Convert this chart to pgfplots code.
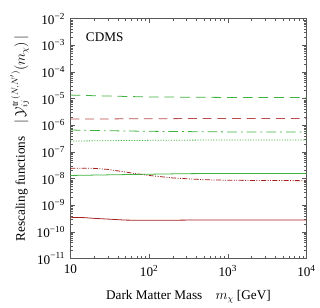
\documentclass[border=0pt]{standalone}
\usepackage{fontspec}
\setmainfont{Liberation Serif}
\usepackage{pgfplots}
\pgfplotsset{compat=1.18}
\definecolor{mgreen}{rgb}{0.25,0.70,0.25}
\definecolor{mred}{rgb}{0.65,0.12,0.12}
\begin{document}
\fontsize{13.5bp}{16bp}\selectfont
\begin{tikzpicture}
\begin{axis}[
  scale only axis,
  width=241bp, height=245bp,
  xmode=log, ymode=log,
  xmin=10, xmax=10000, ymin=1e-11, ymax=1e-2,
  axis line style={gray!70!black, line width=0.5pt},
  tick style={gray!70!black, line width=0.4pt},
  tick align=inside,
  major tick length=5bp, minor tick length=2.5bp,
  xtick={10,100,1000,10000},
  xticklabels={10, 10\textsuperscript{2}, 10\textsuperscript{3}, 10\textsuperscript{4}},
  ytick={1e-11,1e-10,1e-9,1e-8,1e-7,1e-6,1e-5,1e-4,1e-3,1e-2},
  yticklabels={10\textsuperscript{−11},10\textsuperscript{−10},10\textsuperscript{−9},10\textsuperscript{−8},10\textsuperscript{−7},10\textsuperscript{−6},10\textsuperscript{−5},10\textsuperscript{−4},10\textsuperscript{−3},10\textsuperscript{−2}},
  ticklabel style={font=\fontsize{13.5bp}{16bp}\selectfont},
  xticklabel style={yshift=-2bp},
  yticklabel style={xshift=-1bp},
  xlabel={Dark Matter Mass\quad $m_\chi$ [GeV]},
  ylabel={Rescaling functions\quad $|\,\mathcal{Y}^{\mathrm{tr}\,(N,N')}_{ij}(m_\chi)\,|$},
  xlabel style={at={(axis description cs:0.5,-0.16)}, anchor=center},
  ylabel style={at={(axis description cs:-0.215,0.5)}, anchor=center},
  clip=false,
]
\addplot[mgreen, line width=0.8pt, dash pattern=on 10bp off 6bp] coordinates {
(10,1.35e-5) (20,1.28e-5) (50,1.2e-5) (100,1.15e-5) (1000,1.1e-5) (10000,1.1e-5)};
\addplot[mred!80, line width=0.8pt, dash pattern=on 9bp off 6bp] coordinates {
(10,1.7e-6) (100,1.75e-6) (1000,1.8e-6) (10000,1.8e-6)};
\addplot[mgreen, line width=0.8pt, dash pattern=on 10bp off 4bp on 2bp off 4bp] coordinates {
(10,6.6e-7) (30,6.2e-7) (100,5.9e-7) (1000,5.6e-7) (10000,5.6e-7)};
\addplot[mgreen, line width=0.8pt, dash pattern=on 1.2bp off 1.5bp] coordinates {
(10,2.55e-7) (100,2.7e-7) (1000,2.8e-7) (10000,2.8e-7)};
\addplot[mred, line width=0.8pt, dash pattern=on 5bp off 1.5bp on 1bp off 1.5bp on 1bp off 1.5bp] coordinates {
(10,2.4e-8) (15,2.45e-8) (20,2.4e-8) (30,2.2e-8) (50,1.75e-8) (76,1.45e-8) (100,1.3e-8) (200,1.05e-8) (500,9e-9) (1000,8.6e-9) (3000,8.4e-9) (10000,8.3e-9)};
\addplot[mgreen, line width=0.8pt] coordinates {
(10,1.3e-8) (30,1.37e-8) (100,1.45e-8) (300,1.52e-8) (1000,1.55e-8) (10000,1.55e-8)};
\addplot[mred, line width=0.8pt] coordinates {
(10,3.5e-10) (15,3.4e-10) (20,3.2e-10) (30,3.0e-10) (50,2.75e-10) (100,2.7e-10) (300,2.75e-10) (1000,2.8e-10) (10000,2.8e-10)};
\node[anchor=west] at (axis description cs:0.046,0.922) {CDMS};
\path (axis description cs:0,0) ++(-72bp,-50bp) coordinate (bbsw);
\path (axis description cs:1,1) ++(7bp,19bp) coordinate (bbne);
\useasboundingbox (bbsw) rectangle (bbne);
\end{axis}
\end{tikzpicture}
\end{document}
